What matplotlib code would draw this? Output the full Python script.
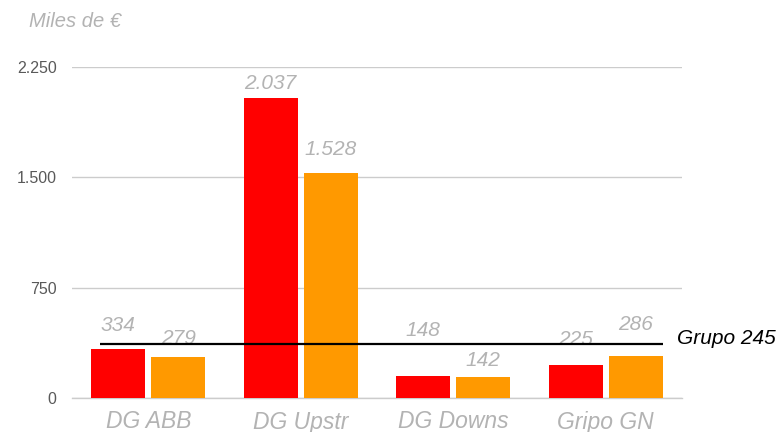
import matplotlib
matplotlib.use("Agg")
import matplotlib.pyplot as plt
import numpy as np

plt.rcParams['font.family'] = ['Liberation Sans', 'DejaVu Sans']

# Data
categories = ["DG ABB", "DG Upstr", "DG Downs", "Gripo GN"]
serie_a = [334, 2037, 148, 225]
serie_b = [279, 1528, 142, 286]
grupo_label = "Grupo"
grupo_value = 245
y_ticks = [0, 750, 1500, 2250]
y_tick_labels = ["0", "750", "1.500", "2.250"]

# Styling
red = "#ff0000"
orange = "#ff9900"
grey_text = "#b3b3b3"
tick_color = "#595959"
grid_color = "#cccccc"

# Label offsets (points above bar top to text baseline)
off_a = [13, 7, 29, 14]
off_b = [9, 13, 8, 19]

def fmt(v):
    return f"{v:,}".replace(",", ".")

fig = plt.figure(figsize=(7.78, 4.32), dpi=100)
W, H = 778, 432
ax = fig.add_axes([72 / W, 1 - 398 / H, (682 - 72) / W, (398 - 67) / H])

x = np.arange(len(categories))
w = 0.354
d = 0.197
bars_a = ax.bar(x - d, serie_a, w, color=red, zorder=3)
bars_b = ax.bar(x + d, serie_b, w, color=orange, zorder=3)

ax.set_xlim(-0.5, len(categories) - 0.5)
ax.set_ylim(0, 2250)
ax.set_yticks(y_ticks)
ax.set_yticklabels(y_tick_labels, color=tick_color, fontsize=11.5)
ax.set_xticks(x)
ax.set_xticklabels(categories, color=grey_text, fontsize=16.5, style='italic')
ax.tick_params(axis='both', length=0)
ax.tick_params(axis='y', pad=11)
ax.tick_params(axis='x', pad=9)

ax.grid(axis='y', color=grid_color, linewidth=1, zorder=0)
for s in ["top", "right", "left"]:
    ax.spines[s].set_visible(False)
ax.spines["bottom"].set_color(grid_color)
ax.spines["bottom"].set_linewidth(1)

for bars, vals, offs in ((bars_a, serie_a, off_a), (bars_b, serie_b, off_b)):
    for b, v, o in zip(bars, vals, offs):
        ax.annotate(fmt(v), (b.get_x() + b.get_width() / 2, v),
                    xytext=(0, o), textcoords="offset points",
                    ha='center', va='baseline', fontsize=15,
                    style='italic', color=grey_text, zorder=5,
                    annotation_clip=False)

# Grupo reference line on its own scale
ax2 = ax.twinx()
ax2.set_ylim(0, 1510)
ax2.axis('off')
x_left = x[0] - d - w / 2 + 0.06
x_right = x[-1] + d + w / 2
ax2.hlines(grupo_value, x_left, x_right, color="black", linewidth=1.6, zorder=6)
ax2.text(x_right + 0.09, grupo_value, f"{grupo_label} {grupo_value}",
         ha='left', va='baseline', fontsize=15, style='italic', color="black",
         clip_on=False)
ax2.set_xlim(ax.get_xlim())

fig.text(29 / W, 1 - 27 / H, "Miles de €", fontsize=14.5, style='italic',
         color=grey_text, ha='left', va='baseline')

fig.savefig("out.png", dpi=100)
